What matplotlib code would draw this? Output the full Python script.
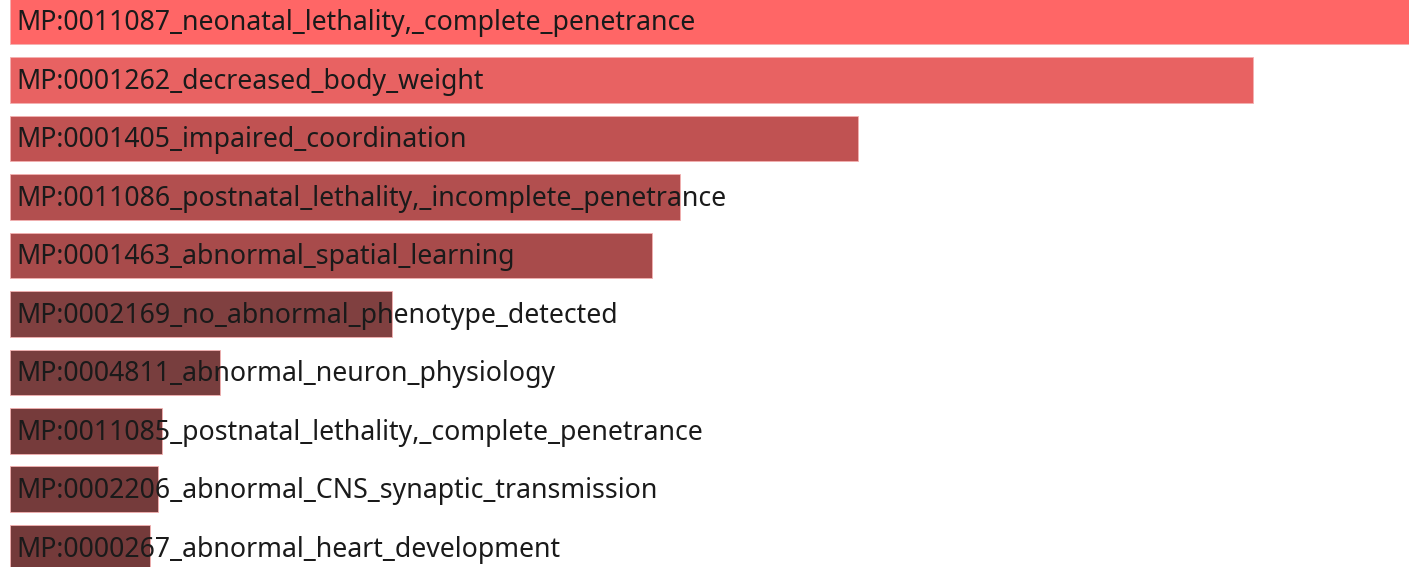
import matplotlib
matplotlib.use("Agg")
import matplotlib.pyplot as plt

terms = [
    "MP:0011087_neonatal_lethality,_complete_penetrance",
    "MP:0001262_decreased_body_weight",
    "MP:0001405_impaired_coordination",
    "MP:0011086_postnatal_lethality,_incomplete_penetrance",
    "MP:0001463_abnormal_spatial_learning",
    "MP:0002169_no_abnormal_phenotype_detected",
    "MP:0004811_abnormal_neuron_physiology",
    "MP:0011085_postnatal_lethality,_complete_penetrance",
    "MP:0002206_abnormal_CNS_synaptic_transmission",
    "MP:0000267_abnormal_heart_development",
]
scores = [1399, 1243, 848, 670, 642, 382, 210, 152, 148, 140]
colors = ["#ff6666", "#e86262", "#c05252", "#b24f4f", "#a84b4b",
          "#804040", "#783e3e", "#763b3b", "#753b3b", "#743a3a"]

fig = plt.figure(figsize=(14.09, 5.67), dpi=100)
ax = fig.add_axes([0, 0, 1, 1])
ypos = list(range(len(terms)))
ax.barh(ypos, scores, height=0.786, color=colors, edgecolor="#f4b0b0", linewidth=0.6)
for y, t in zip(ypos, terms):
    ax.text(6, y + 0.03, t, va="center", ha="left", fontsize=19.2, color="#1a1a1a",
            family=["Noto Sans", "DejaVu Sans"])
ax.set_xlim(-10, 1399)
ax.set_ylim(9.325, -0.3675)
ax.axis("off")
fig.savefig("out.png", dpi=100, facecolor="white")
